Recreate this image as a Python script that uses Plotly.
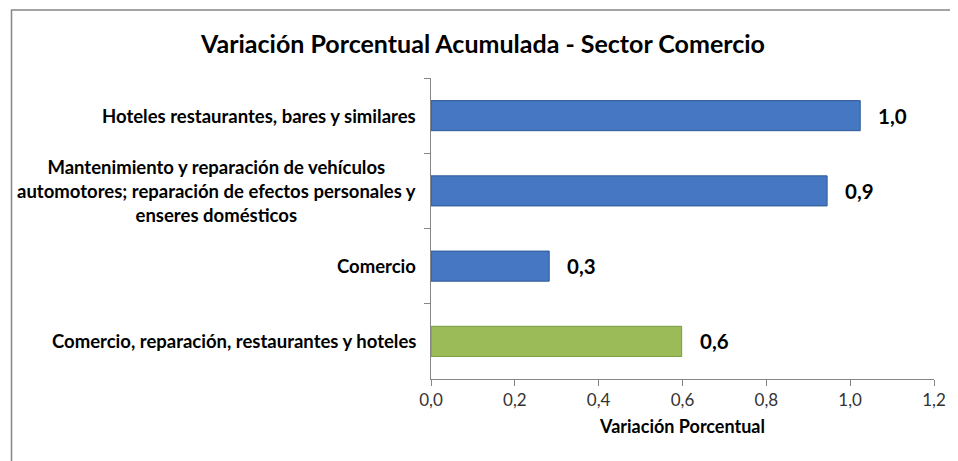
import plotly.graph_objects as go

# data
categorias = [
    "Hoteles restaurantes, bares y similares",
    "Mantenimiento y reparación de vehículos<br>automotores; reparación de efectos personales y<br>enseres domésticos",
    "Comercio",
    "Comercio, reparación, restaurantes y hoteles",
]
valores = [1.024, 0.945, 0.282, 0.598]
colores = ["#4677C2", "#4677C2", "#4677C2", "#9BBB59"]
bordes = ["#2E5A96", "#2E5A96", "#2E5A96", "#7A9A3C"]
ticks_x = [0.0, 0.2, 0.4, 0.6, 0.8, 1.0, 1.2]

FONT = "Lato"

fig = go.Figure()
fig.add_trace(
    go.Bar(
        y=categorias,
        x=valores,
        orientation="h",
        width=0.4,
        marker=dict(color=colores, line=dict(color=bordes, width=1)),
        hoverinfo="x+y",
    )
)

# value labels to the right of each bar
for cat, val in zip(categorias, valores):
    fig.add_annotation(
        x=val, y=cat, xref="x", yref="y",
        text=f"{val:.1f}".replace(".", ","),
        showarrow=False, xanchor="left", xshift=16,
        font=dict(family=FONT, size=20.5, color="#000000", weight="bold"),
    )
    # category labels, centred per line like the original
    fig.add_annotation(
        x=0, y=cat, xref="paper", yref="y",
        text=cat,
        showarrow=False, xanchor="right", xshift=-13, align="center",
        font=dict(family=FONT, size=18.5, color="#000000", weight="bold"),
    )

# outer chart frame (right and bottom edges fall outside the picture)
fig.add_shape(
    type="rect", xref="paper", yref="paper",
    x0=-0.834, x1=1.5, y0=-0.8, y1=1.226,
    line=dict(color="#868686", width=1.5), layer="below",
)

fig.update_layout(
    width=950,
    height=453,
    margin=dict(l=423, r=21, t=70, b=82),
    paper_bgcolor="white",
    plot_bgcolor="white",
    separators=",.",
    showlegend=False,
    title=dict(
        text="Variación Porcentual Acumulada - Sector Comercio",
        x=0.5, xref="container", xanchor="center",
        y=0.92, yanchor="middle",
        font=dict(family=FONT, size=25, color="#000000", weight="bold"),
    ),
    xaxis=dict(
        range=[0, 1.2],
        tickvals=ticks_x,
        tickformat=".1f",
        showgrid=False,
        zeroline=False,
        showline=True,
        linecolor="#868686",
        ticks="outside",
        ticklen=6,
        tickcolor="#868686",
        tickfont=dict(family=FONT, size=17, color="#333333"),
        title=dict(
            text="Variación Porcentual",
            font=dict(family=FONT, size=18, color="#000000", weight="bold"),
            standoff=10,
        ),
    ),
    yaxis=dict(
        autorange="reversed",
        showticklabels=False,
        showgrid=False,
        showline=True,
        linecolor="#868686",
        ticks="outside",
        ticklen=6,
        tickcolor="#868686",
        tickson="boundaries",
    ),
)

fig.write_html("out.html")
